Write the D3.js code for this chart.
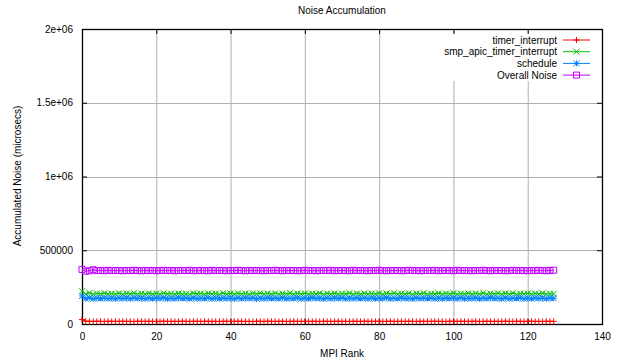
<!DOCTYPE html>
<html><head><meta charset="utf-8">
<script src="https://cdn.jsdelivr.net/npm/d3@7"></script>
<style>body{margin:0;background:#fff}svg{display:block;font-family:"Liberation Sans",Arial,sans-serif}</style>
</head><body><svg id="c" width="622" height="364"></svg>
<script>
const ranks = d3.range(0,128);
const xTicks = [0,20,40,60,80,100,120,140];
const yTicks = [0,500000,1000000,1500000,2000000];
const yTickLabels = ["0","500000","1e+06","1.5e+06","2e+06"];
const seriesNames = ["timer_interrupt","smp_apic_timer_interrupt","schedule","Overall Noise"];
const timerInterrupt = [
30000,19000,18000,17500,18500,18000,17000,18500,18000,17500,18000,18500,17500,18000,17000,18500,
18000,17500,18500,18000,17000,18000,18500,17500,18000,18000,17500,18500,18000,17000,18500,18000,
17500,18000,18500,17500,18000,17000,18500,18000,17500,18000,18500,18000,17500,18000,17000,18500,
18000,17500,18500,18000,17500,18000,18500,17000,18000,18500,17500,18000,18000,17500,18500,18000,
17000,18500,18000,17500,18000,18500,17500,18000,17000,18500,18000,17500,18500,18000,17500,18000,
18500,17000,18000,18500,17500,18000,18000,17500,18500,18000,17000,18500,18000,17500,18000,18500,
17500,18000,17000,18500,18000,17500,18500,18000,17500,18000,18500,17000,18000,18500,17500,18000,
18000,17500,18500,18000,17000,18500,18000,17500,18000,18500,17500,18000,17000,18500,18000,18000];
const smpApic = [
222000,203000,210000,201000,207000,204000,209000,202000,206000,203000,208000,201000,207000,204000,209000,202000,
206000,202000,208000,203000,207000,201000,209000,204000,206000,202000,208000,203000,205000,201000,209000,204000,
207000,202000,208000,203000,206000,201000,209000,204000,207000,202000,208000,203000,206000,201000,208000,204000,
209000,202000,207000,203000,208000,201000,206000,204000,209000,202000,207000,203000,208000,202000,206000,204000,
209000,201000,207000,203000,208000,202000,206000,204000,209000,201000,207000,203000,208000,202000,206000,204000,
208000,201000,207000,203000,209000,202000,206000,204000,208000,201000,207000,203000,209000,202000,206000,204000,
208000,202000,207000,203000,209000,201000,206000,204000,208000,202000,207000,203000,209000,201000,206000,204000,
208000,202000,207000,203000,209000,201000,206000,204000,208000,202000,207000,203000,209000,202000,206000,205000];
const schedule = [
190000,172000,178000,171000,176000,173000,177000,172000,175000,171000,177000,173000,176000,172000,178000,173000,
175000,171000,177000,172000,176000,173000,178000,171000,175000,172000,177000,173000,176000,171000,177000,172000,
175000,173000,178000,171000,176000,172000,177000,173000,175000,171000,178000,172000,176000,173000,177000,171000,
175000,172000,177000,173000,176000,171000,178000,172000,175000,173000,177000,171000,176000,172000,178000,173000,
175000,171000,177000,172000,176000,173000,178000,171000,175000,172000,177000,173000,176000,171000,177000,172000,
175000,173000,178000,171000,176000,172000,177000,173000,175000,171000,178000,172000,176000,173000,177000,171000,
175000,172000,177000,173000,176000,171000,178000,172000,175000,173000,177000,171000,176000,172000,178000,173000,
175000,171000,177000,172000,176000,173000,178000,171000,175000,172000,177000,173000,176000,171000,177000,174000];
const overallNoise = [
370000,358000,361000,368000,362000,363000,361000,364000,362000,363000,362000,361000,363000,362000,364000,362000,
361000,363000,362000,363000,361000,362000,364000,362000,363000,361000,362000,363000,362000,364000,361000,362000,
363000,362000,361000,364000,362000,363000,362000,361000,363000,362000,364000,362000,361000,363000,362000,363000,
362000,361000,363000,362000,364000,362000,361000,363000,362000,363000,361000,362000,364000,362000,363000,361000,
362000,363000,362000,364000,361000,362000,363000,362000,361000,364000,362000,363000,362000,361000,363000,362000,
364000,362000,361000,363000,362000,363000,361000,362000,364000,362000,363000,361000,362000,363000,362000,364000,
361000,362000,363000,362000,361000,364000,362000,363000,362000,361000,363000,362000,364000,362000,361000,363000,
362000,363000,361000,362000,364000,362000,363000,362000,361000,363000,362000,364000,362000,361000,363000,365000];

const colors = ["#ff0000","#00c000","#0080ff","#c000ff"];
const markers = ["plus","cross","star","box"];
const seriesData = [timerInterrupt, smpApic, schedule, overallNoise];

const svg = d3.select("#c");
const L=82, R=602, T=29, B=324;
const x = d3.scaleLinear().domain([0,140]).range([L,R]);
const y = d3.scaleLinear().domain([0,2000000]).range([B,T]);

// grid
const g = svg.append("g");
g.selectAll("line.vg").data(xTicks.slice(1,-1)).enter().append("line")
  .attr("x1",d=>x(d)+0.5).attr("x2",d=>x(d)+0.5).attr("y1",T).attr("y2",B)
  .attr("stroke","#b0b0b0").attr("stroke-width",1);
g.selectAll("line.hg").data(yTicks.slice(1,-1)).enter().append("line")
  .attr("y1",d=>Math.round(y(d))+0.5).attr("y2",d=>Math.round(y(d))+0.5).attr("x1",L).attr("x2",R)
  .attr("stroke","#b0b0b0").attr("stroke-width",1);

// legend background
svg.append("rect").attr("x",440).attr("y",33).attr("width",158).attr("height",48).attr("fill","#fff");

// axes with inward ticks (mirror)
const ax = svg.append("g").attr("font-size",10).attr("fill","#000");
const xb = d3.axisBottom(x).tickValues(xTicks).tickSize(-5).tickPadding(9).tickFormat(d3.format("d"));
const xt = d3.axisTop(x).tickValues(xTicks).tickSize(-5).tickFormat("");
const yl = d3.axisLeft(y).tickValues(yTicks).tickSize(-5).tickPadding(9).tickFormat((d,i)=>yTickLabels[i]);
const yr = d3.axisRight(y).tickValues(yTicks).tickSize(-5).tickFormat("");
[[xb,`translate(0,${B})`],[xt,`translate(0,${T})`],[yl,`translate(${L},0)`],[yr,`translate(${R},0)`]].forEach(([a,t])=>{
  const gg = svg.append("g").attr("transform",t).call(a);
  gg.select(".domain").remove();
  gg.selectAll("line").attr("stroke","#000");
  gg.selectAll("text").attr("font-size",10).attr("font-family","Liberation Sans, Arial, sans-serif").attr("fill","#000");
});
svg.append("rect").attr("x",L+0.5).attr("y",T+0.5).attr("width",R-L).attr("height",B-T)
  .attr("fill","none").attr("stroke","#000").attr("stroke-width",1.3);

function marker(sel, type, size, color){
  const s=size;
  let p;
  if(type==="plus") p=`M${-s},0H${s}M0,${-s}V${s}`;
  else if(type==="cross") p=`M${-s},${-s}L${s},${s}M${-s},${s}L${s},${-s}`;
  else if(type==="star") p=`M${-s},0H${s}M0,${-s}V${s}M${-s},${-s}L${s},${s}M${-s},${s}L${s},${-s}`;
  else p=`M${-s},${-s}H${s}V${s}H${-s}Z`;
  sel.append("path").attr("d",p).attr("fill","none").attr("stroke",color).attr("stroke-width",1);
}

const line = d3.line().x((d,i)=>x(ranks[i])).y(d=>y(d));
seriesData.forEach((arr,k)=>{
  const sg = svg.append("g");
  sg.append("path").attr("d",line(arr)).attr("fill","none").attr("stroke",colors[k]).attr("stroke-width",1);
  arr.forEach((v,i)=>{
    const m = sg.append("g").attr("transform",`translate(${x(ranks[i])},${y(v)})`);
    marker(m, markers[k], 3, colors[k]);
  });
});

// legend
const ly = [40,51.7,63.4,75.1];
seriesNames.forEach((n,k)=>{
  svg.append("text").attr("x",557).attr("y",ly[k]+3.5).attr("text-anchor","end")
    .attr("font-size",10).attr("fill","#000").text(n);
  svg.append("line").attr("x1",563).attr("x2",590).attr("y1",ly[k]).attr("y2",ly[k]).attr("stroke",colors[k]);
  const m = svg.append("g").attr("transform",`translate(576.5,${ly[k]})`);
  marker(m, markers[k], 3, colors[k]);
});

// titles
svg.append("text").attr("x",342).attr("y",14).attr("text-anchor","middle").attr("font-size",10).text("Noise Accumulation");
svg.append("text").attr("x",342).attr("y",357).attr("text-anchor","middle").attr("font-size",10).text("MPI Rank");
svg.append("text").attr("transform","translate(21,176) rotate(-90)").attr("text-anchor","middle").attr("font-size",10).text("Accumulated Noise (microsecs)");
</script></body></html>
